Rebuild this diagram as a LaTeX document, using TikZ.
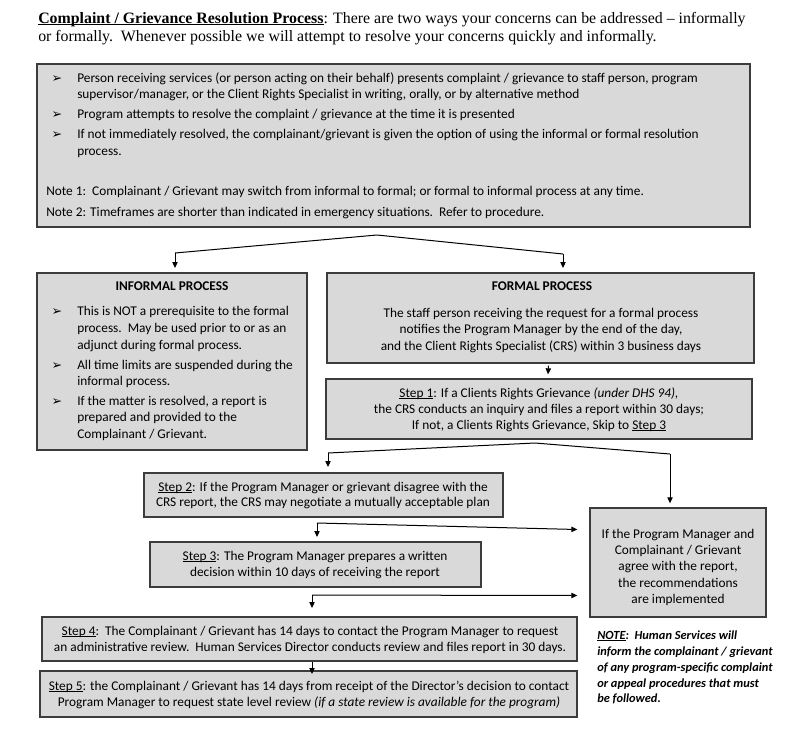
\documentclass[tikz,border=0pt]{standalone}
\usepackage{fontspec}
\setmainfont{Carlito}
\newfontfamily\titlefont{Liberation Serif}
\newfontfamily\symfont{DejaVu Sans}
\usetikzlibrary{arrows.meta,fit,calc}
\definecolor{boxfill}{RGB}{217,217,217}
\definecolor{boxline}{RGB}{60,60,60}
\newcommand\ulx[1]{\setbox0\hbox{#1}\rlap{\rule[-1.5pt]{\wd0}{0.55pt}}\box0}
\tikzset{
  box/.style={draw=boxline, fill=boxfill, line width=1pt, inner sep=0pt, rectangle},
  txt/.style={inner sep=0pt, font=\fontsize{10}{12}\selectfont},
  lt/.style={txt, anchor=mid west},
  ct/.style={txt, anchor=mid},
  nt/.style={inner sep=0pt, anchor=mid west, font=\fontsize{9.3}{11}\selectfont\bfseries\itshape},
  bul/.style={inner sep=0pt, anchor=mid, font=\symfont\fontsize{9.5}{10}\selectfont},
  ttl/.style={inner sep=0pt, anchor=mid west, font=\titlefont\fontsize{11.9}{14}\selectfont},
  ln/.style={draw=black, line width=0.75pt},
  arr/.style={draw=black, line width=0.75pt, -{Triangle[length=4.5pt,width=4pt]}},
}
\begin{document}
\begin{tikzpicture}[x=0.75pt,y=-0.75pt]
\useasboundingbox (0,0) rectangle (794,729);

% title
\node[ttl] (ti1) at (38,20) {\ulx{\textbf{Complaint / Grievance Resolution Process}}: There are two ways your concerns can be addressed – informally};
\node[ttl] (ti2) at (38,38) {or formally.\ \ Whenever possible we will attempt to resolve your concerns quickly and informally.};

% boxes
\node[box, fit={(37,64)(750,227)}] (top) {};
\node[box, fit={(37,273)(307,450)}] (inf) {};
\node[box, fit={(327,273)(754,363)}] (frm) {};
\node[box, fit={(326,379)(752,439)}] (s1) {};
\node[box, fit={(144,473)(503,517)}] (s2) {};
\node[box, fit={(590,508)(766,617)}] (agr) {};
\node[box, fit={(150,542)(481,587)}] (s3) {};
\node[box, fit={(42,617)(577,661)}] (s4) {};
\node[box, fit={(40,671)(577,717)}] (s5) {};

% top box text
\node[bul] (b1) at (57,79) {➢};
\node[lt] (t1) at (77,79) {Person receiving services (or person acting on their behalf) presents complaint / grievance to staff person, program};
\node[lt] (t2) at (77,95) {supervisor/manager, or the Client Rights Specialist in writing, orally, or by alternative method};
\node[bul] (b2) at (57,115) {➢};
\node[lt] (t3) at (77,115) {Program attempts to resolve the complaint / grievance at the time it is presented};
\node[bul] (b3) at (57,135) {➢};
\node[lt] (t4) at (77,135) {If not immediately resolved, the complainant/grievant is given the option of using the informal or formal resolution};
\node[lt] (t5) at (77,152) {process.};
\node[lt] (t6) at (46,192) {Note 1:\ \ Complainant / Grievant may switch from informal to formal; or formal to informal process at any time.};
\node[lt] (t7) at (46,213) {Note 2: Timeframes are shorter than indicated in emergency situations.\ \ Refer to procedure.};

% informal
\node[ct] (i0) at (172,287) {\textbf{INFORMAL PROCESS}};
\node[bul] (ib1) at (57,312) {➢};
\node[lt] (i1) at (77,312) {This is NOT a prerequisite to the formal};
\node[lt] (i2) at (77,329) {process.\ \ May be used prior to or as an};
\node[lt] (i3) at (77,346) {adjunct during formal process.};
\node[bul] (ib2) at (57,366) {➢};
\node[lt] (i4) at (77,366) {All time limits are suspended during the};
\node[lt] (i5) at (77,382) {informal process.};
\node[bul] (ib3) at (57,402) {➢};
\node[lt] (i6) at (77,402) {If the matter is resolved, a report is};
\node[lt] (i7) at (77,418) {prepared and provided to the};
\node[lt] (i8) at (77,435) {Complainant / Grievant.};

% formal
\node[ct] (f0) at (542,287) {\textbf{FORMAL PROCESS}};
\node[ct] (f1) at (541,314) {The staff person receiving the request for a formal process};
\node[ct] (f2) at (541,330) {notifies the Program Manager by the end of the day,};
\node[ct] (f3) at (541,347) {and the Client Rights Specialist (CRS) within 3 business days};

% step 1
\node[ct] (p1a) at (539,394) {\ulx{Step 1}: If a Clients Rights Grievance \textit{(under DHS 94),}};
\node[ct] (p1b) at (539,410) {the CRS conducts an inquiry and files a report within 30 days;};
\node[ct] (p1c) at (539,426) {If not, a Clients Rights Grievance, Skip to \ulx{Step 3}};

% step 2
\node[ct] (p2a) at (323,488) {\ulx{Step 2}: If the Program Manager or grievant disagree with the};
\node[ct] (p2b) at (323,503) {CRS report, the CRS may negotiate a mutually acceptable plan};

% step 3
\node[ct] (p3a) at (315,557) {\ulx{Step 3}: The Program Manager prepares a written};
\node[ct] (p3b) at (315,573) {decision within 10 days of receiving the report};

% agree
\node[ct] (g1) at (678,535) {If the Program Manager and};
\node[ct] (g2) at (678,551) {Complainant / Grievant};
\node[ct] (g3) at (678,567) {agree with the report,};
\node[ct] (g4) at (678,584) {the recommendations};
\node[ct] (g5) at (678,600) {are implemented};

% step 4
\node[ct] (p4a) at (310,632) {\ulx{Step 4}:\ \ The Complainant / Grievant has 14 days to contact the Program Manager to request};
\node[ct] (p4b) at (310,648) {an administrative review.\ \ Human Services Director conducts review and files report in 30 days.};

% step 5
\node[ct] (p5a) at (309,687) {\ulx{Step 5}: the Complainant / Grievant has 14 days from receipt of the Director’s decision to contact};
\node[ct] (p5b) at (309,703) {Program Manager to request state level review \textit{(if a state review is available for the program)}};

% note
\node[nt] (n1) at (597,636) {\ulx{NOTE}:\ \ Human Services will};
\node[nt] (n2) at (597,652) {inform the complainant / grievant};
\node[nt] (n3) at (597,668) {of any program-specific complaint};
\node[nt] (n4) at (597,684) {or appeal procedures that must};
\node[nt] (n5) at (597,699) {be followed.};

% connectors
\coordinate (a1) at (377,235);
\coordinate (a1l) at (175,253);
\coordinate (a1r) at (563,254);
\coordinate (e1l) at (175,268);
\coordinate (e1r) at (563,268);
\draw[ln] (a1l) -- (a1) -- (a1r);
\draw[arr] (a1l) -- (e1l);
\draw[arr] (a1r) -- (e1r);

\draw[arr] ($(frm.south)+(8,2)$) coordinate (fs) -- ($(s1.north)+(9,-4)$);

\coordinate (a2) at (535,443);
\coordinate (a2l) at (328,453);
\coordinate (a2r) at (670,454);
\draw[ln] (a2l) -- (a2) -- (a2r);
\draw[arr] (a2l) -- (328,467) coordinate (e2l);
\draw[arr] (a2r) -- ($(agr.north)+(-8,-4)$);

\coordinate (c2) at (317,523);
\draw[arr] (c2) -- (317,537) coordinate (e2d);
\draw[arr] (c2) -- ($(agr.west)+(-12,-33)$);

\coordinate (c3) at (312,595);
\draw[arr] (c3) -- (312,608) coordinate (e3d);
\draw[arr] (c3) -- ($(agr.west)+(-12,33)$);

\draw[arr] (s4.south -| 312,0) -- (312,674) coordinate (e4d);
\end{tikzpicture}
\end{document}
